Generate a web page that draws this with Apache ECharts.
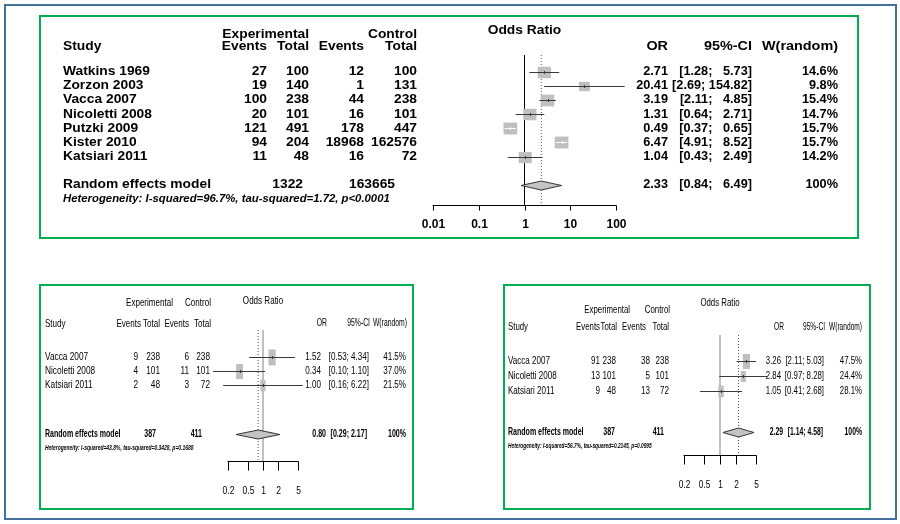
<!DOCTYPE html>
<html><head><meta charset="utf-8">
<script src="https://cdn.jsdelivr.net/npm/echarts@6/dist/echarts.min.js"></script>
<style>html,body{margin:0;padding:0;background:#fff}#c{width:900px;height:524px}</style>
</head><body><div id="c"></div>
<script>
// ---------- Panel A (all studies) ----------
const studiesA = ['Watkins 1969','Zorzon 2003','Vacca 2007','Nicoletti 2008','Putzki 2009','Kister 2010','Katsiari 2011'];
const expEventsA = [27,19,100,20,121,94,11];
const expTotalA = [100,140,238,101,491,204,48];
const ctrlEventsA = [12,1,44,16,178,18968,16];
const ctrlTotalA = [100,131,238,101,447,162576,72];
const orA = [2.71,20.41,3.19,1.31,0.49,6.47,1.04];
const lowerA = [1.28,2.69,2.11,0.64,0.37,4.91,0.43];
const upperA = [5.73,154.82,4.85,2.71,0.65,8.52,2.49];
const weightA = [14.6,9.8,15.4,14.7,15.7,15.7,14.2];
const pooledA = [2.33,0.84,6.49];
const pooledTotalsA = [1322,163665];
const hetA = 'Heterogeneity: I-squared=96.7%, tau-squared=1.72, p<0.0001';
const ticksA = [0.01,0.1,1,10,100];
const tickLabelsA = ['0.01','0.1','1','10','100'];

// ---------- Panel B ----------
const studiesB = ['Vacca 2007','Nicoletti 2008','Katsiari 2011'];
const expEventsB = [9,4,2];
const expTotalB = [238,101,48];
const ctrlEventsB = [6,11,3];
const ctrlTotalB = [238,101,72];
const orB = [1.52,0.34,1.00];
const lowerB = [0.53,0.10,0.16];
const upperB = [4.34,1.10,6.22];
const weightB = [41.5,37.0,21.5];
const pooledB = [0.80,0.29,2.17];
const pooledTotalsB = [387,411];
const hetB = 'Heterogeneity: I-squared=43.8%, tau-squared=0.3428, p=0.1688';
const ticksB = [0.2,0.5,1,2,5];
const tickLabelsB = ['0.2','0.5','1','2','5'];

// ---------- Panel C ----------
const studiesC = ['Vacca 2007','Nicoletti 2008','Katsiari 2011'];
const expEventsC = [91,13,9];
const expTotalC = [238,101,48];
const ctrlEventsC = [38,5,13];
const ctrlTotalC = [238,101,72];
const orC = [3.26,2.84,1.05];
const lowerC = [2.11,0.97,0.41];
const upperC = [5.03,8.28,2.68];
const weightC = [47.5,24.4,28.1];
const pooledC = [2.29,1.14,4.58];
const pooledTotalsC = [387,411];
const hetC = 'Heterogeneity: I-squared=56.7%, tau-squared=0.2145, p=0.0995';
const ticksC = [0.2,0.5,1,2,5];
const tickLabelsC = ['0.2','0.5','1','2','5'];

const FONT = '"Liberation Sans", Arial, Helvetica, sans-serif';

const panels = [
  { studies:studiesA, ee:expEventsA, et:expTotalA, ce:ctrlEventsA, ct:ctrlTotalA, or:orA, lo:lowerA, hi:upperA, w:weightA,
    pooled:pooledA, ptot:pooledTotalsA, het:hetA, ticks:ticksA, tickLabels:tickLabelsA,
    grid:{left:433, top:55, width:183, height:150}, xMin:0.01, xMax:100, yMin:-1.2, yMax:9.43,
    pooledRow:8, hetRow:9, hdr1Row:-2.62, hdr2Row:-1.78, titleRow:-2.9,
    k:3.0, aspect:1.15, dh:4.5, tickLen:5, labelGap:19,
    refColor:'#000', refWidth:1,
    txt:{fs:12, fw:'bold', sx:1.15}, txtR:{fs:12, fw:'bold', sx:1.06}, hdr:{fs:12, fw:'bold', sx:1.15}, hdrR:{fs:12, fw:'bold', sx:1.2},
    pool:{fs:12, fw:'bold', sx:1.15}, poolR:{fs:12, fw:'bold', sx:1.06}, tick:{fs:12, fw:'bold', sx:1}, hetS:{fs:10.5, fw:'bold', fst:'italic', sx:1.08},
    cols:{study:63, ee:267, et:309, ce:364, ct:417, or:668, ci:752, w:838, pet:303, pct:395, por:668, pci:752,
          hOr:668, hCi:752, hW:838, hExp:309, hCtl:417, hEe:267, hEt:309, hCe:364, hCt:417}
  },
  { studies:studiesB, ee:expEventsB, et:expTotalB, ce:ctrlEventsB, ct:ctrlTotalB, or:orB, lo:lowerB, hi:upperB, w:weightB,
    pooled:pooledB, ptot:pooledTotalsB, het:hetB, ticks:ticksB, tickLabels:tickLabelsB,
    grid:{left:228, top:330, width:70, height:131}, xMin:0.2, xMax:5, yMin:-1.93, yMax:7.43,
    pooledRow:5.5, hetRow:6.5, hdr1Row:-3.9, hdr2Row:-2.4, titleRow:-4.05,
    k:2.48, aspect:0.45, dh:4.5, tickLen:9, labelGap:29,
    refColor:'#c0c0c0', refWidth:2,
    txt:{fs:11.5, fw:'normal', sx:0.72}, txtR:{fs:11.5, fw:'normal', sx:0.7}, hdr:{fs:11.5, fw:'normal', sx:0.7}, hdrR:{fs:11, fw:'normal', sx:0.62},
    pool:{fs:11, fw:'bold', sx:0.64}, poolR:{fs:11, fw:'bold', sx:0.64}, tick:{fs:11.5, fw:'normal', sx:0.74}, hetS:{fs:8, fw:'bold', fst:'italic', sx:0.62},
    cols:{study:45, ee:138, et:160, ce:189, ct:210, or:321, ci:369, w:406, pet:156, pct:202, por:326, pci:367,
          hOr:327, hCi:370, hW:407, hExp:173, hCtl:211, hEe:141, hEt:160, hCe:189, hCt:211}
  },
  { studies:studiesC, ee:expEventsC, et:expTotalC, ce:ctrlEventsC, ct:ctrlTotalC, or:orC, lo:lowerC, hi:upperC, w:weightC,
    pooled:pooledC, ptot:pooledTotalsC, het:hetC, ticks:ticksC, tickLabels:tickLabelsC,
    grid:{left:684, top:335, width:72, height:120}, xMin:0.2, xMax:5, yMin:-1.73, yMax:6.27,
    pooledRow:4.73, hetRow:5.67, hdr1Row:-3.4, hdr2Row:-2.27, titleRow:-3.87,
    k:2.18, aspect:0.47, dh:4.5, tickLen:9, labelGap:29,
    refColor:'#c0c0c0', refWidth:2,
    txt:{fs:11.5, fw:'normal', sx:0.7}, txtR:{fs:11.5, fw:'normal', sx:0.68}, hdr:{fs:11.5, fw:'normal', sx:0.68}, hdrR:{fs:11, fw:'normal', sx:0.6},
    pool:{fs:11, fw:'bold', sx:0.64}, poolR:{fs:11, fw:'bold', sx:0.62}, tick:{fs:11.5, fw:'normal', sx:0.72}, hetS:{fs:8, fw:'bold', fst:'italic', sx:0.6},
    cols:{study:508, ee:600, et:616, ce:650, ct:669, or:781, ci:824, w:862, pet:615, pct:664, por:783, pci:823,
          hOr:784, hCi:825, hW:862, hExp:630, hCtl:670, hEe:600, hEt:617, hCe:646, hCt:669}
  }
];

function fmtCI(lo, hi, width) {
  return '[' + lo.toFixed(2) + '; ' + hi.toFixed(2).padStart(width, ' ') + ']';
}

function forestRender(p) {
  return function (params, api) {
    const est = api.value(0), lo = api.value(1), hi = api.value(2), row = api.value(3), w = api.value(4), kind = api.value(5);
    const c = api.coord([est, row]);
    const a = api.coord([lo, row]);
    const b = api.coord([hi, row]);
    const y = Math.round(c[1]) + 0.5;
    if (kind === 1) {
      return { type:'polygon', shape:{ points:[[a[0],y],[c[0],y-p.dh],[b[0],y],[c[0],y+p.dh]] },
               style:{ fill:'#c4c4c4', stroke:'#333', lineWidth:1 } };
    }
    const h = p.k * Math.sqrt(w), bw = h * p.aspect;
    const inside = (b[0] - a[0]) < bw;
    const lc = inside ? '#ffffff' : '#3a3a3a';
    return { type:'group', children:[
      { type:'rect', shape:{ x:c[0]-bw/2, y:y-h/2, width:bw, height:h }, style:{ fill:'#bfbfbf' } },
      { type:'line', shape:{ x1:a[0], y1:y, x2:b[0], y2:y }, style:{ stroke:lc, lineWidth:1 } },
      { type:'line', shape:{ x1:Math.round(c[0])+0.5, y1:y-1.5, x2:Math.round(c[0])+0.5, y2:y+1.5 }, style:{ stroke:lc, lineWidth:1 } }
    ]};
  };
}

function tickRender(p) {
  return function (params, api) {
    const v = api.value(0);
    const pt = api.coord([v, p.yMax]);
    const x = Math.round(pt[0]) + 0.5, y = Math.round(pt[1]) + 0.5;
    return { type:'group', children:[
      { type:'line', shape:{ x1:x, y1:y, x2:x, y2:y + p.tickLen }, style:{ stroke:'#000', lineWidth:1 } },
      { type:'text', x:x, y:y + p.labelGap, scaleX:p.tick.sx,
        style:{ text:p.tickLabels[params.dataIndex], fill:'#000', fontFamily:FONT, fontSize:p.tick.fs, fontWeight:p.tick.fw, align:'center', verticalAlign:'middle' } }
    ]};
  };
}

const option = { animation:false, grid:[], xAxis:[], yAxis:[], series:[] };

panels.forEach((p, i) => {
  option.grid.push(Object.assign({ containLabel:false }, p.grid));
  option.xAxis.push({ type:'log', logBase:10, gridIndex:i, min:p.xMin, max:p.xMax,
    axisLine:{ show:true, onZero:false, lineStyle:{ color:'#000', width:1 } }, axisTick:{ show:false }, axisLabel:{ show:false }, splitLine:{ show:false } });
  option.yAxis.push({ type:'value', gridIndex:i, inverse:true, min:p.yMin, max:p.yMax, show:false });
  option.series.push({ type:'line', xAxisIndex:i, yAxisIndex:i, data:[[1,p.yMin],[1,p.yMax]], symbol:'none', silent:true,
    lineStyle:{ color:p.refColor, width:p.refWidth }, z:1 });
  option.series.push({ type:'line', xAxisIndex:i, yAxisIndex:i, data:[[p.pooled[0],p.yMin],[p.pooled[0],p.yMax]], symbol:'none', silent:true,
    lineStyle:{ color:'#555', width:1, type:[1,2] }, z:1 });
  const data = p.or.map((v, j) => [v, p.lo[j], p.hi[j], j, p.w[j], 0]);
  data.push([p.pooled[0], p.pooled[1], p.pooled[2], p.pooledRow, 100, 1]);
  option.series.push({ type:'custom', xAxisIndex:i, yAxisIndex:i, data:data, renderItem:forestRender(p), clip:false, silent:true, z:3 });
  option.series.push({ type:'custom', xAxisIndex:i, yAxisIndex:i, data:p.ticks.map(v => [v, p.yMax]), renderItem:tickRender(p), clip:false, silent:true, z:3 });
});

const chart = echarts.init(document.getElementById('c'));
chart.setOption(option);

function T(x, y, text, o, align) {
  return { type:'text', x:x, y:y, scaleX:o.sx, silent:true,
    style:{ text:text, fill:'#000', fontFamily:FONT, fontSize:o.fs, fontWeight:o.fw || 'normal', fontStyle:o.fst || 'normal',
            align:align || 'left', verticalAlign:'middle' } };
}

const els = [];
els.push({ type:'rect', shape:{ x:5, y:5, width:891, height:514 }, style:{ fill:'none', stroke:'#44709c', lineWidth:2 }, silent:true });
els.push({ type:'rect', shape:{ x:40, y:16, width:818, height:222 }, style:{ fill:'none', stroke:'#00b050', lineWidth:2 }, silent:true });
els.push({ type:'rect', shape:{ x:40, y:285, width:373, height:224 }, style:{ fill:'none', stroke:'#00b050', lineWidth:2 }, silent:true });
els.push({ type:'rect', shape:{ x:504, y:285, width:366, height:224 }, style:{ fill:'none', stroke:'#00b050', lineWidth:2 }, silent:true });

panels.forEach((p, i) => {
  const Y = r => chart.convertToPixel({ yAxisIndex:i }, r);
  const c = p.cols;
  const mid = (p.grid.left + p.grid.width / 2);
  els.push(T(mid, Y(p.titleRow), 'Odds Ratio', p.hdr, 'center'));
  els.push(T(c.hExp, Y(p.hdr1Row), 'Experimental', p.hdr, 'right'));
  els.push(T(c.hCtl, Y(p.hdr1Row), 'Control', p.hdr, 'right'));
  els.push(T(c.study, Y(p.hdr2Row), 'Study', p.hdr));
  els.push(T(c.hEe, Y(p.hdr2Row), 'Events', p.hdr, 'right'));
  els.push(T(c.hEt, Y(p.hdr2Row), 'Total', p.hdr, 'right'));
  els.push(T(c.hCe, Y(p.hdr2Row), 'Events', p.hdr, 'right'));
  els.push(T(c.hCt, Y(p.hdr2Row), 'Total', p.hdr, 'right'));
  els.push(T(c.hOr, Y(p.hdr2Row), 'OR', p.hdrR, 'right'));
  els.push(T(c.hCi, Y(p.hdr2Row), '95%-CI', p.hdrR, 'right'));
  els.push(T(c.hW, Y(p.hdr2Row), 'W(random)', p.hdrR, 'right'));
  const width = Math.max(...p.hi.concat([p.pooled[2]]).map(v => v.toFixed(2).length));
  p.studies.forEach((s, j) => {
    const y = Y(j);
    els.push(T(c.study, y, s, p.txt));
    els.push(T(c.ee, y, String(p.ee[j]), p.txt, 'right'));
    els.push(T(c.et, y, String(p.et[j]), p.txt, 'right'));
    els.push(T(c.ce, y, String(p.ce[j]), p.txt, 'right'));
    els.push(T(c.ct, y, String(p.ct[j]), p.txt, 'right'));
    els.push(T(c.or, y, p.or[j].toFixed(2), p.txtR, 'right'));
    els.push(T(c.ci, y, fmtCI(p.lo[j], p.hi[j], width), p.txtR, 'right'));
    els.push(T(c.w, y, p.w[j].toFixed(1) + '%', p.txtR, 'right'));
  });
  const yp = Y(p.pooledRow);
  els.push(T(c.study, yp, 'Random effects model', p.pool));
  els.push(T(c.pet, yp, String(p.ptot[0]), p.pool, 'right'));
  els.push(T(c.pct, yp, String(p.ptot[1]), p.pool, 'right'));
  els.push(T(c.por, yp, p.pooled[0].toFixed(2), p.poolR, 'right'));
  els.push(T(c.pci, yp, fmtCI(p.pooled[1], p.pooled[2], width), p.poolR, 'right'));
  els.push(T(c.w, yp, '100%', p.poolR, 'right'));
  els.push(T(c.study, Y(p.hetRow), p.het, p.hetS));
});

chart.setOption({ graphic:{ elements:els } });
</script></body></html>
